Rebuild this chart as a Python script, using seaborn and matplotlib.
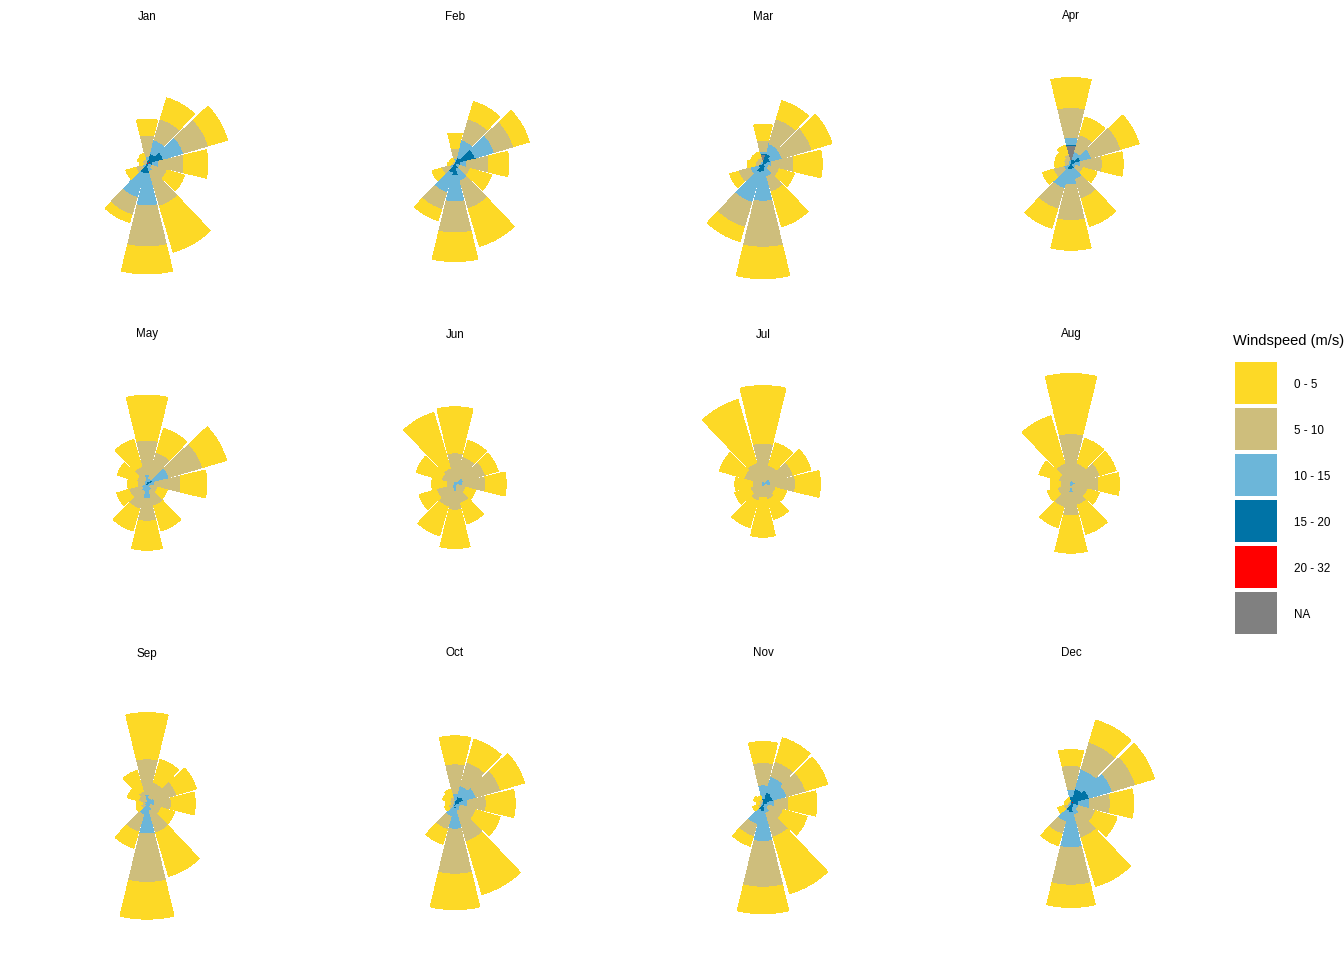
import numpy as np
import pandas as pd
import matplotlib
matplotlib.use("Agg")
import matplotlib.pyplot as plt
from matplotlib.patches import Rectangle
import seaborn as sns

# ---------------- data ----------------
months = ["Jan", "Feb", "Mar", "Apr", "May", "Jun",
          "Jul", "Aug", "Sep", "Oct", "Nov", "Dec"]
directions = [0, 30, 60, 90, 120, 150, 180, 210, 240, 270, 300, 330]
speed_bins = ["0 - 5", "5 - 10", "10 - 15", "15 - 20", "20 - 32", "NA"]
bin_colors = ["#FDD926", "#CEBE7C", "#6CB6D9", "#0073A6", "#FF0000", "#808080"]

# frequency per month (rows) and direction (columns)
freq_0_5 = [
    [16, 22, 20, 24, 18, 48, 27, 8, 10, 4, 5, 6],
    [15, 18, 16.5, 20, 22, 39.5, 28.7, 11.6, 10, 4, 3, 3],
    [16, 19, 21, 28.3, 15.7, 36.5, 31.4, 15, 9, 8, 6, 5.7],
    [30, 18.4, 19, 21, 14.3, 29, 29.6, 20, 11.2, 9.3, 8.3, 9.7],
    [45, 25, 25, 26, 9.5, 26, 29, 23, 12.6, 9.3, 20, 28.5],
    [46, 17, 13.4, 20.6, 10, 21.6, 38.3, 30.2, 18, 14.4, 26, 58],
    [57.7, 23.5, 18.5, 25, 11, 20.9, 39.4, 28, 16, 17.4, 25.6, 65.8],
    [60, 26, 16.7, 20.7, 12, 30.5, 37.4, 21, 10, 10, 20.5, 49.5],
    [46.3, 24, 20.5, 24, 14, 45.3, 36.7, 16.7, 5, 5.7, 11, 22],
    [28, 24.2, 25, 29, 25, 55.3, 35.6, 15.2, 4, 5, 7, 8],
    [21, 24.7, 23, 28.3, 24.7, 58.8, 26.6, 10, 5, 2.7, 5, 4],
    [15.7, 23.2, 19.8, 23.4, 22.5, 50.8, 22.3, 12.2, 6, 3, 3, 3],
]
freq_5_10 = [
    [21, 22, 26, 25, 16, 36, 41, 18, 7, 2, 3, 3],
    [10, 22, 20, 22, 11, 28.9, 31, 17.7, 8, 2, 1, 1],
    [11, 26, 31, 22.3, 11, 16, 46, 26, 12.1, 4, 4, 4],
    [30, 17.9, 30.6, 21.6, 7.7, 20, 36, 21.5, 10.5, 4, 5, 6],
    [34, 27, 35, 26, 7.5, 16, 22.3, 18, 13, 7, 8, 14],
    [28.7, 25, 23, 23.4, 9, 16.4, 19, 19.3, 16, 7.3, 12, 14],
    [38.3, 17, 24, 25.3, 11, 13.6, 9.3, 15, 11, 9.3, 17.4, 19.7],
    [46.7, 18, 26.8, 23.3, 15, 19.5, 23.3, 22, 12, 9, 11.5, 19],
    [36, 16, 23, 16.3, 10.8, 22.7, 48.7, 18.1, 4, 3, 7, 10],
    [29.7, 24.1, 25.5, 18.6, 16, 31.7, 45, 13.8, 4, 3, 4, 4],
    [22.3, 15.8, 19.5, 14.4, 15.3, 25.2, 45.7, 12.7, 3, 2, 3, 2],
    [24.3, 28.1, 24.2, 20.6, 17.5, 23.7, 37.4, 12.8, 4, 2, 1, 1],
]
freq_10_15 = [
    [4, 14, 21, 6, 3, 5, 32, 25, 3, 1, 1, 1],
    [3, 18, 20, 6, 3, 12.6, 26.3, 20.3, 3, 1, 1, 1],
    [2.5, 10, 12, 4.7, 4, 9, 30, 30.7, 8.6, 2, 2, 2],
    [6.7, 7.7, 11.4, 5.7, 3, 11, 14.7, 19.5, 6, 2, 2, 3],
    [5, 3, 17, 5, 2.5, 5, 10, 6, 4, 2, 2, 3],
    [2, 3, 6.6, 5.3, 2, 3, 5.7, 4, 3, 1, 2, 2],
    [2, 2, 6, 5.7, 2, 2, 4, 2, 2, 1, 2, 2],
    [3.3, 3, 3, 4, 2, 2, 7, 2, 2, 1, 1, 2],
    [7.7, 5, 6, 6, 3, 6, 26.3, 9.7, 2, 1, 2, 2],
    [7, 11.2, 13, 7.7, 4, 6, 20.7, 10.5, 2, 1, 1, 2],
    [13.7, 16.2, 14.3, 6.3, 4, 7, 30, 14.8, 2, 1, 1, 1],
    [7.3, 20.3, 24, 10.7, 5, 8, 35, 11, 3, 1, 1, 1],
]
freq_15_20 = [
    [3, 9, 13, 4, 1.5, 2, 8, 9, 2, 1, 1, 1],
    [2.5, 6, 18, 5, 1.5, 4, 10.7, 8.9, 3, 1, 1, 1],
    [0.5, 9, 6, 3.5, 1.5, 3.5, 5.3, 8.3, 4.5, 2, 1, 1],
    [1, 4.5, 7, 3.5, 2, 4.5, 5.5, 5.5, 2, 1, 1, 1],
    [1, 2, 4, 2.5, 1.5, 1.5, 4.5, 1.5, 2, 1, 1, 1],
    [0.5, 0.5, 2, 2, 0.5, 0.5, 1.5, 0.5, 0.5, 0.5, 0.5, 0.5],
    [0.5, 0.5, 1.5, 1.5, 0.5, 0.5, 0.5, 0.5, 0.5, 0.5, 0.5, 0.5],
    [0.5, 0.5, 0.5, 0.5, 0.5, 0.5, 1.5, 0.5, 0.5, 0.5, 0.5, 0.5],
    [1, 1, 2, 2, 1, 2, 3.5, 2, 0.5, 0.5, 0.5, 0.5],
    [2.5, 6.5, 8, 4.5, 2, 2, 4.5, 2.5, 1, 1, 1, 1],
    [4.5, 9.8, 9.7, 4.5, 2, 2.5, 7.5, 6.5, 1, 1, 1, 1],
    [5.7, 12.4, 15, 7, 2.5, 3.5, 8.3, 7.5, 1, 1, 1, 1],
]
freq_20_32 = [
    [1, 2, 4, 2, 0.5, 1, 2, 1, 0, 0, 0, 0],
    [0.5, 1, 3, 1, 0.5, 1, 1, 0.5, 0, 0, 0, 0],
    [0, 2, 2, 0.5, 0.5, 0.5, 2, 1, 0.5, 0, 0, 0],
    [0, 0.5, 3, 0.5, 0, 0.5, 0.5, 0.5, 0, 0, 0, 0],
    [0, 1, 2, 0.5, 0, 0.5, 0.5, 0.5, 0, 0, 0, 0],
    [0, 0, 0, 0, 0, 0, 0, 0, 0, 0, 0, 0],
    [0, 0, 0, 0, 0, 0, 0, 0, 0, 0, 0, 0],
    [0, 0, 0, 0, 0, 0, 0, 0, 0, 0, 0, 0],
    [0, 0, 0, 0, 0, 0, 0.5, 0, 0, 0, 0, 0],
    [0.5, 1, 1, 0.5, 0, 0, 0.5, 0.5, 0, 0, 0, 0],
    [0.5, 2, 1, 0.5, 0, 0.5, 0.5, 0.5, 0, 0, 0, 0],
    [1, 3, 4, 1, 0.5, 0.5, 1, 0.5, 0, 0, 0, 0],
]
freq_na = [
    [0] * 12,
    [0] * 12,
    [10, 0, 0, 0, 0, 0, 0, 0, 0, 0, 0, 0],
    [19, 0, 0, 0, 0, 0, 0, 0, 0, 0, 0, 0],
    [4, 0, 0, 0, 0, 0, 0, 0, 0, 0, 0, 0],
    [0] * 12,
    [0] * 12,
    [0] * 12,
    [0] * 12,
    [0] * 12,
    [0] * 12,
    [0] * 12,
]

bin_tables = dict(zip(speed_bins, [freq_0_5, freq_5_10, freq_10_15,
                                   freq_15_20, freq_20_32, freq_na]))
palette = dict(zip(speed_bins, bin_colors))

rows = []
for spd, table in bin_tables.items():
    for mi, m in enumerate(months):
        for di, d in enumerate(directions):
            rows.append((m, d, spd, table[mi][di]))
df = pd.DataFrame(rows, columns=["month", "direction", "speed", "freq"])

# ---------------- style ----------------
sns.set_theme(style="white")
plt.rcParams["font.family"] = ["Liberation Sans", "DejaVu Sans"]

R_MAX = 120.0
SECTOR = 30.0


def draw_rose(data, **kws):
    ax = plt.gca()
    wide = (data.pivot_table(index="direction", columns="speed",
                             values="freq", aggfunc="sum")
            .reindex(index=directions, columns=speed_bins).fillna(0))
    theta = np.deg2rad(np.array(directions, dtype=float))
    width = np.deg2rad(SECTOR * 0.9)
    bottom = np.zeros(len(directions))
    # last factor level (NA) innermost, first level (0 - 5) outermost
    for spd in reversed(speed_bins):
        h = wide[spd].to_numpy(dtype=float)
        ax.bar(theta, h, width=width, bottom=bottom, color=palette[spd],
               linewidth=0, align="center", antialiased=False)
        bottom = bottom + h


g = sns.FacetGrid(df, col="month", col_wrap=4, col_order=months,
                  subplot_kws=dict(projection="polar"),
                  sharex=False, sharey=False, despine=False,
                  height=2.4, aspect=1)
g.map_dataframe(draw_rose)
g.set_titles("")

fig = g.figure
fig.set_size_inches(13.44, 9.6)
fig.set_dpi(100)
W, H = 1344.0, 960.0

col_x = [147, 455, 763, 1071]
row_y = [164, 484, 803.5]
title_y = [16.5, 334.5, 653.5]
half = R_MAX

for i, (ax, m) in enumerate(zip(g.axes.flat, months)):
    cx = col_x[i % 4]
    cy = row_y[i // 4]
    ax.set_position([(cx - half) / W, 1 - (cy + half) / H,
                     2 * half / W, 2 * half / H])
    ax.set_theta_zero_location("N")
    ax.set_theta_direction(-1)
    ax.set_ylim(0, R_MAX)
    ax.set_axis_off()
    fig.text(cx / W, 1 - title_y[i // 4] / H, m,
             ha="center", va="center", fontsize=8.4, color="black")

# legend (drawn as keys + labels in figure coordinates)
fig.text(1233 / W, 1 - 341 / H, "Windspeed (m/s)", ha="left", va="center",
         fontsize=10.5, color="black")
for i, s in enumerate(speed_bins):
    top = 362 + 46 * i
    fig.patches.append(Rectangle((1235 / W, 1 - (top + 42) / H), 42 / W, 42 / H,
                                 transform=fig.transFigure, figure=fig,
                                 facecolor=palette[s], edgecolor="none",
                                 linewidth=0))
    fig.text(1294 / W, 1 - (top + 23) / H, s, ha="left", va="center",
             fontsize=8.4, color="black")

fig.savefig("out.png", dpi=100, facecolor="white")
